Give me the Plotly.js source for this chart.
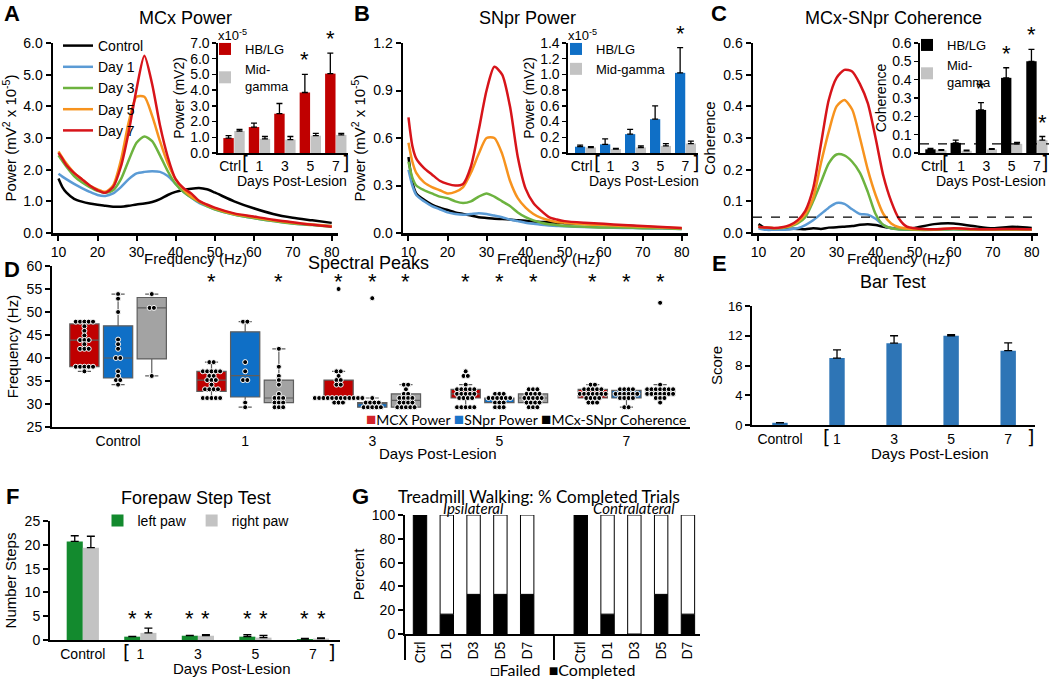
<!DOCTYPE html>
<html>
<head>
<meta charset="utf-8">
<script src="https://cdn.plot.ly/plotly-3.0.1.min.js"></script>
<style>
  body { margin: 0; background: #fff; }
  #fig { width: 1050px; height: 680px; }
</style>
</head>
<body>
<div id="fig"></div>
<script>
// ---- spectra (A-C) ----
const freq = [10, 11, 12, 14, 16, 18, 20, 22, 24, 26, 28, 30, 32, 34, 36, 38, 40, 42, 44, 46, 48, 50, 55, 60, 65, 70, 75, 80];
const curveNames = ['Control', 'Day 1', 'Day 3', 'Day 5', 'Day 7'];
const curveColors = ['#000000', '#5b9bd5', '#6db33f', '#f7931e', '#d7141a'];

// MCx power (x 10^-5 mV^2)
const mcxControl = [1.72, 1.45, 1.28, 1.08, 0.99, 0.93, 0.89, 0.86, 0.83, 0.83, 0.86, 0.90, 0.93, 0.98, 1.07, 1.20, 1.30, 1.36, 1.40, 1.42, 1.38, 1.28, 1.00, 0.78, 0.60, 0.48, 0.40, 0.32];
const mcxDay1 = [1.87, 1.78, 1.70, 1.55, 1.42, 1.30, 1.20, 1.17, 1.25, 1.45, 1.70, 1.88, 1.93, 1.95, 1.93, 1.80, 1.55, 1.30, 1.12, 0.95, 0.85, 0.75, 0.58, 0.47, 0.38, 0.30, 0.26, 0.22];
const mcxDay3 = [2.45, 2.27, 2.10, 1.80, 1.60, 1.45, 1.33, 1.27, 1.35, 1.70, 2.30, 2.85, 3.05, 2.90, 2.45, 1.95, 1.55, 1.30, 1.12, 0.98, 0.85, 0.75, 0.58, 0.47, 0.38, 0.30, 0.25, 0.20];
const mcxDay5 = [2.58, 2.38, 2.20, 1.90, 1.70, 1.50, 1.38, 1.30, 1.50, 2.30, 3.50, 4.30, 4.30, 3.70, 2.90, 2.20, 1.70, 1.38, 1.15, 1.00, 0.88, 0.78, 0.60, 0.50, 0.40, 0.32, 0.27, 0.22];
const mcxDay7 = [2.53, 2.35, 2.15, 1.90, 1.70, 1.50, 1.35, 1.27, 1.45, 2.10, 3.20, 4.55, 5.60, 4.70, 3.40, 2.40, 1.70, 1.42, 1.25, 1.02, 0.90, 0.80, 0.62, 0.52, 0.42, 0.34, 0.26, 0.20];

// SNpr power (x 10^-5 mV^2)
const snprControl = [0.48, 0.32, 0.25, 0.21, 0.18, 0.16, 0.145, 0.13, 0.12, 0.11, 0.10, 0.095, 0.09, 0.088, 0.085, 0.08, 0.077, 0.073, 0.07, 0.068, 0.065, 0.062, 0.058, 0.052, 0.047, 0.04, 0.033, 0.027];
const snprDay1 = [0.40, 0.30, 0.24, 0.20, 0.17, 0.15, 0.13, 0.12, 0.115, 0.12, 0.125, 0.12, 0.11, 0.10, 0.085, 0.075, 0.065, 0.058, 0.052, 0.048, 0.045, 0.042, 0.038, 0.035, 0.032, 0.03, 0.028, 0.025];
const snprDay3 = [0.45, 0.35, 0.30, 0.27, 0.25, 0.23, 0.22, 0.20, 0.19, 0.20, 0.23, 0.25, 0.23, 0.20, 0.17, 0.13, 0.10, 0.08, 0.065, 0.055, 0.05, 0.045, 0.04, 0.035, 0.035, 0.03, 0.03, 0.025];
const snprDay5 = [0.57, 0.45, 0.38, 0.32, 0.29, 0.27, 0.25, 0.26, 0.29, 0.38, 0.50, 0.60, 0.60, 0.50, 0.33, 0.22, 0.16, 0.12, 0.095, 0.08, 0.07, 0.065, 0.055, 0.05, 0.045, 0.04, 0.035, 0.03];
const snprDay7 = [0.73, 0.55, 0.47, 0.41, 0.37, 0.33, 0.31, 0.30, 0.31, 0.42, 0.65, 0.90, 1.05, 1.00, 0.80, 0.48, 0.28, 0.19, 0.14, 0.10, 0.085, 0.075, 0.065, 0.058, 0.05, 0.045, 0.038, 0.032];

// MCx-SNpr coherence
const cohControl = [0.028, 0.02, 0.015, 0.013, 0.012, 0.013, 0.013, 0.012, 0.015, 0.013, 0.017, 0.018, 0.02, 0.022, 0.026, 0.028, 0.025, 0.02, 0.016, 0.013, 0.013, 0.016, 0.028, 0.03, 0.022, 0.015, 0.02, 0.016];
const cohDay1 = [0.015, 0.012, 0.01, 0.01, 0.01, 0.012, 0.015, 0.025, 0.04, 0.06, 0.08, 0.095, 0.092, 0.075, 0.06, 0.058, 0.045, 0.025, 0.015, 0.012, 0.01, 0.01, 0.01, 0.012, 0.01, 0.01, 0.01, 0.01];
const cohDay3 = [0.02, 0.018, 0.017, 0.015, 0.016, 0.02, 0.03, 0.05, 0.10, 0.16, 0.22, 0.248, 0.245, 0.225, 0.19, 0.13, 0.06, 0.025, 0.015, 0.012, 0.011, 0.01, 0.01, 0.012, 0.01, 0.01, 0.01, 0.01];
const cohDay5 = [0.02, 0.018, 0.017, 0.015, 0.017, 0.022, 0.035, 0.06, 0.11, 0.22, 0.32, 0.40, 0.42, 0.39, 0.30, 0.20, 0.12, 0.06, 0.03, 0.018, 0.014, 0.012, 0.012, 0.014, 0.012, 0.012, 0.012, 0.012];
const cohDay7 = [0.02, 0.018, 0.017, 0.016, 0.018, 0.025, 0.04, 0.07, 0.14, 0.28, 0.42, 0.49, 0.515, 0.51, 0.47, 0.41, 0.30, 0.18, 0.10, 0.045, 0.02, 0.015, 0.012, 0.015, 0.013, 0.012, 0.013, 0.012];
const cohThreshold = 0.05;

// ---- inset bar charts ----
const insetCats = ['Ctrl\u00a0\u00a0', '1', '3', '5', '7'];
const mcxHB = [0.95, 1.65, 2.5, 3.85, 5.05];
const mcxHBErr = [0.15, 0.25, 0.65, 1.15, 1.3];
const mcxMid = [1.4, 0.9, 0.85, 1.1, 1.15];
const mcxMidErr = [0.1, 0.15, 0.2, 0.15, 0.1];
const snprHB = [0.08, 0.11, 0.24, 0.43, 1.02];
const snprHBErr = [0.02, 0.07, 0.06, 0.17, 0.32];
const snprMid = [0.07, 0.05, 0.07, 0.09, 0.12];
const snprMidErr = [0.01, 0.01, 0.02, 0.03, 0.03];
const cohHB = [0.02, 0.055, 0.235, 0.41, 0.5];
const cohHBErr = [0.005, 0.015, 0.04, 0.055, 0.065];
const cohMid = [0.015, 0.012, 0.02, 0.05, 0.07];
const cohMidErr = [0.003, 0.003, 0.004, 0.008, 0.02];
const mcxHBSig = [0, 0, 0, 1, 1];
const snprHBSig = [0, 0, 0, 0, 1];
const cohHBSig = [0, 0, 1, 1, 1];
const cohMidSig = [0, 0, 0, 0, 1];

// ---- D: spectral peak frequencies (Hz) per day ----
const peakCats = ['Control', '1', '3', '5', '7'];
const mcxPeaks = [
  [47.9, 47.9, 47.9, 47.9, 47.9, 46.9, 45.9, 44.9, 43.9, 43.9, 43.9, 43.0, 42.0, 42.0, 42.0, 38.1, 38.1, 38.1, 38.1, 38.1, 37.1],
  [39.1, 39.1, 37.1, 37.1, 37.1, 37.1, 37.1, 36.1, 36.1, 35.2, 35.2, 35.2, 34.2, 33.2, 33.2, 33.2, 33.2, 31.3, 31.3, 31.3, 31.3, 31.3],
  [55.0, 37.1, 37.1, 36.1, 35.2, 35.2, 34.2, 34.2, 31.3, 31.3, 31.3, 31.3, 31.3, 31.3, 31.3, 31.3, 31.3, 31.3, 31.3, 31.3, 30.3, 30.3, 30.3],
  [37.1, 36.1, 36.1, 34.2, 33.2, 33.2, 33.2, 33.2, 33.2, 32.2, 32.2, 32.2, 32.2, 32.2, 31.3, 31.3, 31.3, 31.3, 29.3, 29.3, 29.3, 29.3, 29.3],
  [34.2, 34.2, 33.2, 33.2, 33.2, 33.2, 33.2, 32.2, 32.2, 32.2, 32.2, 32.2, 32.2, 32.2, 31.3, 31.3, 31.3, 31.3, 30.3, 30.3, 30.3]
];
const snprPeaks = [
  [53.9, 52.9, 50.0, 44.0, 43.0, 42.0, 40.0, 40.0, 37.1, 36.1, 35.2, 35.2, 34.2],
  [47.9, 47.9, 39.1, 37.1, 35.2, 35.2, 30.3, 29.3],
  [53.0, 31.3, 30.3, 30.3, 30.3, 30.3, 29.3, 29.3, 29.3, 29.3, 29.3],
  [32.2, 32.2, 32.2, 31.3, 31.3, 31.3, 31.3, 31.3, 31.3, 30.3, 30.3, 30.3, 29.3, 29.3, 29.3],
  [33.2, 33.2, 33.2, 33.2, 32.2, 32.2, 32.2, 32.2, 32.2, 32.2, 31.3, 31.3, 31.3, 31.3, 29.3, 29.3]
];
const cohPeaks = [
  [53.9, 50.9, 50.9, 36.1],
  [42.0, 38.1, 36.1, 35.2, 34.2, 32.2, 31.3, 31.3, 31.3, 30.3, 30.3, 30.3, 29.3, 29.3, 29.3],
  [34.2, 34.2, 33.2, 32.2, 32.2, 31.3, 31.3, 31.3, 31.3, 30.3, 30.3, 30.3, 30.3, 29.3, 29.3, 29.3, 29.3, 29.3],
  [33.2, 33.2, 33.2, 32.2, 32.2, 32.2, 32.2, 31.3, 31.3, 31.3, 31.3, 31.3, 30.3, 30.3, 30.3, 30.3, 29.3, 29.3, 29.3],
  [52.0, 34.2, 33.2, 33.2, 33.2, 33.2, 33.2, 33.2, 33.2, 32.2, 32.2, 32.2, 32.2, 32.2, 32.2, 32.2, 31.3, 31.3, 31.3, 30.3]
];
const mcxPeakSig = [0, 1, 1, 1, 1];
const snprPeakSig = [0, 0, 1, 1, 1];
const cohPeakSig = [0, 1, 1, 1, 1];

// ---- E: bar test ----
const dayCats = ['Control', '1', '3', '5', '7'];
const barScore = [0.3, 9.0, 11.0, 12.0, 10.0];
const barScoreErr = [0, 1.1, 1.0, 0.15, 1.05];

// ---- F: forepaw step test ----
const leftPaw = [20.7, 0.7, 0.9, 0.7, 0.2];
const leftPawErr = [1.2, 0.05, 0.05, 0.4, 0.15];
const rightPaw = [19.4, 1.5, 0.9, 0.5, 0.3];
const rightPawErr = [2.4, 1.0, 0.25, 0.45, 0.15];
const stepSig = [0, 1, 1, 1, 1];

// ---- G: treadmill walking (% completed) ----
const trialCats = ['Ctrl', 'D1', 'D3', 'D5', 'D7'];
const ipsiCompleted = [100, 16.7, 33.3, 33.3, 33.3];
const contraCompleted = [100, 16.7, 0, 33.3, 16.7];

// ---------------------------------------------------------------
const W = 1050, H = 680;
const X = v => v / W;
const Y = v => 1 - v / H;
const dx = (a, b) => [X(a), X(b)];
const dy = (top, bottom) => [Y(bottom), Y(top)];
const FONT = 'Liberation Sans, Arial, sans-serif';
const CAL = 'Lato, Liberation Sans, sans-serif';

function axis(extra) {
  return Object.assign({
    showline: true, linecolor: '#000', linewidth: 2,
    ticks: 'outside', ticklen: 5, tickwidth: 2, tickcolor: '#000',
    showgrid: false, zeroline: false, fixedrange: true,
    tickfont: { size: 14, color: '#000' }
  }, extra);
}

const traces = [];
const annotations = [];
const shapes = [];

function label(x, y, text, size, extra) {
  annotations.push(Object.assign({
    xref: 'paper', yref: 'paper', x: X(x), y: Y(y), text: text,
    showarrow: false, font: { size: size, color: '#000' },
    xanchor: 'center', yanchor: 'middle'
  }, extra));
}

function star(xa, ya, x, y, anchor) {
  annotations.push({
    xref: xa, yref: ya, x: x, y: y, text: '*', showarrow: false,
    font: { size: 22, color: '#000' }, yanchor: anchor || 'bottom'
  });
}

function upErr(err, w) {
  return { type: 'data', array: err, arrayminus: err.map(() => 0), symmetric: false,
           color: '#000', thickness: 1.3, width: w || 3 };
}

// spectra panels
function spectra(curves, xa, ya, showLegend) {
  curves.forEach((ys, i) => {
    traces.push({
      type: 'scatter', mode: 'lines', x: freq, y: ys, name: curveNames[i],
      line: { color: curveColors[i], width: 2.5, shape: 'spline', smoothing: 0.7 },
      xaxis: xa, yaxis: ya, showlegend: showLegend, legend: 'legend', hoverinfo: 'skip'
    });
  });
}
spectra([mcxControl, mcxDay1, mcxDay3, mcxDay5, mcxDay7], 'x', 'y', true);
spectra([snprControl, snprDay1, snprDay3, snprDay5, snprDay7], 'x3', 'y3', false);
spectra([cohControl, cohDay1, cohDay3, cohDay5, cohDay7], 'x5', 'y5', false);

// insets
const barW = 0.41;
function inset(xa, ya, hb, hbErr, mid, midErr, hbColor, legendId, midName, hbSig, midSig) {
  const idx = hb.map((_, i) => i);
  traces.push({ type: 'bar', x: idx, y: hb, width: barW, offset: -barW - 0.01,
    marker: { color: hbColor }, error_y: upErr(hbErr), name: 'HB/LG',
    xaxis: xa, yaxis: ya, legend: legendId });
  traces.push({ type: 'bar', x: idx, y: mid, width: barW, offset: 0.01,
    marker: { color: '#c3c3c3' }, error_y: upErr(midErr), name: midName,
    xaxis: xa, yaxis: ya, legend: legendId });
  hbSig.forEach((s, i) => { if (s) star(xa, ya, i - barW / 2 - 0.01, hb[i] + hbErr[i]); });
  midSig.forEach((s, i) => { if (s) star(xa, ya, i + barW / 2 + 0.01, mid[i] + midErr[i]); });
}
inset('x2', 'y2', mcxHB, mcxHBErr, mcxMid, mcxMidErr, '#c00000', 'legend2', 'Mid-<br>gamma', mcxHBSig, [0, 0, 0, 0, 0]);
inset('x4', 'y4', snprHB, snprHBErr, snprMid, snprMidErr, '#0f6fc6', 'legend3', 'Mid-gamma', snprHBSig, [0, 0, 0, 0, 0]);
inset('x6', 'y6', cohHB, cohHBErr, cohMid, cohMidErr, '#000000', 'legend4', 'Mid-<br>gamma', cohHBSig, cohMidSig);

// D: box plots with swarm points
function quant(s, p) {
  const n = s.length, pos = (n + 1) * p;
  if (pos <= 1) return s[0];
  if (pos >= n) return s[n - 1];
  const lo = Math.floor(pos), f = pos - lo;
  return s[lo - 1] + f * (s[lo] - s[lo - 1]);
}
function boxStats(vals) {
  const s = [...vals].sort((a, b) => a - b);
  const q1 = quant(s, 0.25), med = quant(s, 0.5), q3 = quant(s, 0.75), iqr = q3 - q1;
  const lo = s.find(v => v >= q1 - 1.5 * iqr);
  const hi = [...s].reverse().find(v => v <= q3 + 1.5 * iqr);
  return { q1, med, q3, lo, hi };
}
function swarm(vals, center, step) {
  const counts = {}, seen = {};
  vals.forEach(v => { counts[v] = (counts[v] || 0) + 1; });
  return vals.map(v => {
    const k = counts[v];
    seen[v] = (seen[v] || 0) + 1;
    return center + (seen[v] - 1 - (k - 1) / 2) * step;
  });
}
const peakSeries = [
  { name: 'MCX Power', groups: mcxPeaks, fill: '#c00000', key: '#d2232a', sig: mcxPeakSig },
  { name: 'SNpr Power', groups: snprPeaks, fill: '#0f6fc6', key: '#1a73c9', sig: snprPeakSig },
  { name: 'MCx-SNpr Coherence', groups: cohPeaks, fill: '#a3a3a3', key: '#000000', sig: cohPeakSig }
];
const seriesShift = 0.265;
const peakStarLevel = 56.6;
peakSeries.forEach((ser, si) => {
  const shift = (si - 1) * seriesShift;
  const stats = ser.groups.map(boxStats);
  traces.push({
    type: 'box', x: ser.groups.map((_, g) => g + shift),
    q1: stats.map(s => s.q1), median: stats.map(s => s.med), q3: stats.map(s => s.q3),
    lowerfence: stats.map(s => s.lo), upperfence: stats.map(s => s.hi),
    width: 0.23, whiskerwidth: 0.45, fillcolor: ser.fill,
    line: { color: '#5e5e5e', width: 1.2 }, boxpoints: false,
    xaxis: 'x7', yaxis: 'y7', showlegend: false, hoverinfo: 'skip'
  });
  const px = [], pyv = [];
  ser.groups.forEach((vals, g) => {
    px.push(...swarm(vals, g + shift, 0.034));
    pyv.push(...vals);
  });
  traces.push({
    type: 'scatter', mode: 'markers', x: px, y: pyv,
    marker: { size: 5, color: '#000', line: { color: '#fff', width: 1 } },
    xaxis: 'x7', yaxis: 'y7', showlegend: false, hoverinfo: 'skip'
  });
  ser.sig.forEach((s, g) => { if (s) star('x7', 'y7', g + shift, peakStarLevel, 'middle'); });
});
// D key, drawn as text with coloured squares
label(688, 418, peakSeries.map(s => '<span style="color:' + s.key + ';font-size:17px">■</span>' + s.name).join(' '), 14,
  { xanchor: 'right', font: { size: 14, family: CAL, color: '#000' } });

// E: bar test
traces.push({
  type: 'bar', x: dayCats.map((_, i) => i), y: barScore, width: 0.27,
  marker: { color: '#2e75b6' }, error_y: upErr(barScoreErr, 4),
  xaxis: 'x8', yaxis: 'y8', showlegend: false
});

// F: forepaw step test
const stepW = 0.28;
traces.push({
  type: 'bar', x: dayCats.map((_, i) => i), y: leftPaw, width: stepW, offset: -stepW,
  marker: { color: '#138a2e' }, error_y: upErr(leftPawErr, 4), name: 'left paw',
  xaxis: 'x9', yaxis: 'y9', legend: 'legend6'
});
traces.push({
  type: 'bar', x: dayCats.map((_, i) => i), y: rightPaw, width: stepW, offset: 0,
  marker: { color: '#c3c3c3' }, error_y: upErr(rightPawErr, 4), name: 'right paw',
  xaxis: 'x9', yaxis: 'y9', legend: 'legend6'
});
const stepStarLevel = 4.6;
stepSig.forEach((s, i) => {
  if (s) {
    star('x9', 'y9', i - stepW / 2, stepStarLevel, 'middle');
    star('x9', 'y9', i + stepW / 2, stepStarLevel, 'middle');
  }
});

// G: treadmill, stacked completed / failed
const contraStart = trialCats.length + 1;
const gPos = [...trialCats.map((_, i) => i), ...trialCats.map((_, i) => i + contraStart)];
const gCompleted = [...ipsiCompleted, ...contraCompleted];
const gFailed = gCompleted.map(v => 100 - v);
traces.push({
  type: 'bar', x: gPos, y: gCompleted, width: 0.5, name: 'Completed',
  marker: { color: '#000', line: { color: '#000', width: 1 } },
  xaxis: 'x10', yaxis: 'y10', showlegend: false
});
traces.push({
  type: 'bar', x: gPos, y: gFailed, base: gCompleted, width: 0.5, name: 'Failed',
  marker: { color: '#fff', line: { color: '#000', width: 1 } },
  xaxis: 'x10', yaxis: 'y10', showlegend: false
});
label(562, 669, '□Failed  ■Completed', 16, { font: { size: 16, family: CAL, color: '#000' } });

// threshold lines in C
['5', '6'].forEach(n => {
  shapes.push({ type: 'line', xref: 'x' + n + ' domain', x0: 0, x1: 1, yref: 'y' + n,
    y0: cohThreshold, y1: cohThreshold, line: { color: '#000', width: 1.3, dash: 'dash' } });
});
// G: axis extension and group separator
shapes.push({ type: 'line', xref: 'x10 domain', x0: 0, x1: 0, yref: 'paper', y0: Y(660), y1: Y(634),
  line: { color: '#000', width: 2 } });
shapes.push({ type: 'line', xref: 'x10', x0: contraStart - 1, x1: contraStart - 1, yref: 'paper',
  y0: Y(660), y1: Y(634), line: { color: '#000', width: 2 } });

// titles and panel letters
label(185, 18, 'MCx Power', 18);
label(527, 18, 'SNpr Power', 18);
label(893, 18, 'MCx-SNpr Coherence', 18);
label(368, 263, 'Spectral Peaks', 18);
label(893, 282, 'Bar Test', 18);
label(196, 498, 'Forepaw Step Test', 18);
label(539, 497, 'Treadmill Walking: % Completed Trials', 17, { font: { size: 17, family: CAL, color: '#000' } });
[['A', 12, 13], ['B', 362, 13], ['C', 719, 13], ['D', 12, 270], ['E', 719, 264], ['F', 12, 497], ['G', 360, 497]]
  .forEach(l => label(l[1], l[2], '<b>' + l[0] + '</b>', 22));
label(232, 35, 'x10<sup>-5</sup>', 13);
label(582, 35, 'x10<sup>-5</sup>', 13);
annotations.push({ xref: 'x10', yref: 'paper', x: (trialCats.length - 1) / 2, y: Y(508), yanchor: 'middle',
  text: '<i>Ipsilateral</i>', showarrow: false, font: { size: 15, family: CAL, color: '#000' } });
annotations.push({ xref: 'x10', yref: 'paper', x: contraStart + (trialCats.length - 1) / 2, y: Y(508), yanchor: 'middle',
  text: '<i>Contralateral</i>', showarrow: false, font: { size: 15, family: CAL, color: '#000' } });
// axis titles along x
label(195, 258, 'Frequency (Hz)', 15);
label(548, 258, 'Frequency (Hz)', 15);
label(898, 258, 'Frequency (Hz)', 15);
label(292, 181, 'Days Post-Lesion', 14);
label(644, 181, 'Days Post-Lesion', 14);
label(991, 181, 'Days Post-Lesion', 14);
label(438, 453, 'Days Post-Lesion', 15);
label(930, 453, 'Days Post-Lesion', 15);
label(232, 668, 'Days Post-Lesion', 15);
// brackets grouping the post-lesion days
[[245, 346, 163], [597, 695, 163], [945, 1044, 163], [826, 1030, 437], [126, 331, 652]].forEach(b => {
  label(b[0], b[2], '[', 19, { font: { size: 19, family: 'DejaVu Sans, sans-serif', color: '#000' } });
  label(b[1], b[2], ']', 19, { font: { size: 19, family: 'DejaVu Sans, sans-serif', color: '#000' } });
});

// axes
const freqTicks = [10, 20, 30, 40, 50, 60, 70, 80];
function freqAxis(domain, anchor) {
  return axis({ domain, anchor, range: [8.6, 81.6], tickvals: freqTicks, linewidth: 2.5 });
}
function insetX(domain, anchor, range) {
  return axis({ domain, anchor, range, tickvals: insetCats.map((_, i) => i), ticktext: insetCats,
    ticks: '', linewidth: 1.6, tickfont: { size: 14 } });
}
function insetY(domain, anchor, range, dtick, title) {
  return axis({ domain, anchor, range, dtick, tickformat: '.1f', linewidth: 1.6, tickwidth: 1.5, ticklen: 4,
    tickfont: { size: 14 }, title: { text: title, font: { size: 14 }, standoff: 2 } });
}
const powerTitle = 'Power (mV<sup>2</sup> x 10<sup>-5</sup>)';
const legendBase = { xanchor: 'left', yanchor: 'top', bgcolor: 'rgba(0,0,0,0)', font: { size: 14 }, tracegroupgap: 0 };

const layout = {
  width: W, height: H,
  margin: { l: 0, r: 0, t: 0, b: 0, autoexpand: false },
  paper_bgcolor: '#fff', plot_bgcolor: 'rgba(0,0,0,0)',
  font: { family: FONT, color: '#000', size: 14 },
  barmode: 'overlay', boxmode: 'overlay',
  showlegend: true,
  xaxis: freqAxis(dx(53, 338), 'y'),
  yaxis: axis({ domain: dy(43, 233), anchor: 'x', range: [0, 6], dtick: 1, tickformat: '.1f', linewidth: 2.5,
    title: { text: powerTitle, font: { size: 15 }, standoff: 4 } }),
  xaxis2: insetX(dx(218, 348), 'y2', [-0.63, 4.48]),
  yaxis2: insetY(dy(43, 153), 'x2', [0, 7], 1, 'Power (mV2)'),
  xaxis3: freqAxis(dx(403, 688), 'y3'),
  yaxis3: axis({ domain: dy(43, 233), anchor: 'x3', range: [0, 1.2], dtick: 0.3, tickformat: '.1f', linewidth: 2.5,
    title: { text: powerTitle, font: { size: 15 }, standoff: 4 } }),
  xaxis4: insetX(dx(568, 698), 'y4', [-0.7, 4.5]),
  yaxis4: insetY(dy(43, 153), 'x4', [0, 1.4], 0.2, 'Power (mV2)'),
  xaxis5: freqAxis(dx(753, 1038), 'y5'),
  yaxis5: axis({ domain: dy(43, 233), anchor: 'x5', range: [0, 0.6], dtick: 0.1, tickformat: '.1f', linewidth: 2.5,
    title: { text: 'Coherence', font: { size: 15 }, standoff: 4 } }),
  xaxis6: insetX(dx(920, 1049), 'y6', [-0.63, 4.48]),
  yaxis6: insetY(dy(43, 153), 'x6', [0, 0.6], 0.1, 'Coherence'),
  xaxis7: axis({ domain: dx(52, 690), anchor: 'y7', range: [-0.52, 4.5], tickvals: peakCats.map((_, i) => i),
    ticktext: peakCats, ticks: '' }),
  yaxis7: axis({ domain: dy(266, 427), anchor: 'x7', range: [25, 60], dtick: 5,
    title: { text: 'Frequency (Hz)', font: { size: 15 }, standoff: 4 } }),
  xaxis8: axis({ domain: dx(752, 1035), anchor: 'y8', range: [-0.49, 4.47], tickvals: dayCats.map((_, i) => i),
    ticktext: dayCats, ticks: '' }),
  yaxis8: axis({ domain: dy(306, 425), anchor: 'x8', range: [0, 16], dtick: 4, tickfont: { size: 13 },
    title: { text: 'Score', font: { size: 15 }, standoff: 2 } }),
  xaxis9: axis({ domain: dx(50, 340), anchor: 'y9', range: [-0.57, 4.47], tickvals: dayCats.map((_, i) => i),
    ticktext: dayCats, ticks: '' }),
  yaxis9: axis({ domain: dy(521, 640), anchor: 'x9', range: [0, 25], dtick: 5,
    title: { text: 'Number Steps', font: { size: 15 }, standoff: 4 } }),
  xaxis10: axis({ domain: dx(405, 700), anchor: 'y10', range: [-0.56, 10.45], tickvals: gPos,
    ticktext: [...trialCats, ...trialCats], ticks: '', tickangle: -90 }),
  yaxis10: axis({ domain: dy(515, 634), anchor: 'x10', range: [0, 100], dtick: 20,
    title: { text: 'Percent', font: { size: 15 }, standoff: 4 } }),
  legend: Object.assign({}, legendBase, { x: X(58), y: Y(30), itemwidth: 30 }),
  legend2: Object.assign({}, legendBase, { x: X(205), y: Y(34), font: { size: 13 } }),
  legend3: Object.assign({}, legendBase, { x: X(556), y: Y(34), font: { size: 13 } }),
  legend4: Object.assign({}, legendBase, { x: X(907), y: Y(30), font: { size: 13 } }),
  legend6: Object.assign({}, legendBase, { orientation: 'h', x: X(196), y: Y(505), xanchor: 'center' }),
  annotations: annotations,
  shapes: shapes
};

Plotly.newPlot('fig', traces, layout, { displayModeBar: false, staticPlot: true });
</script>
</body>
</html>
